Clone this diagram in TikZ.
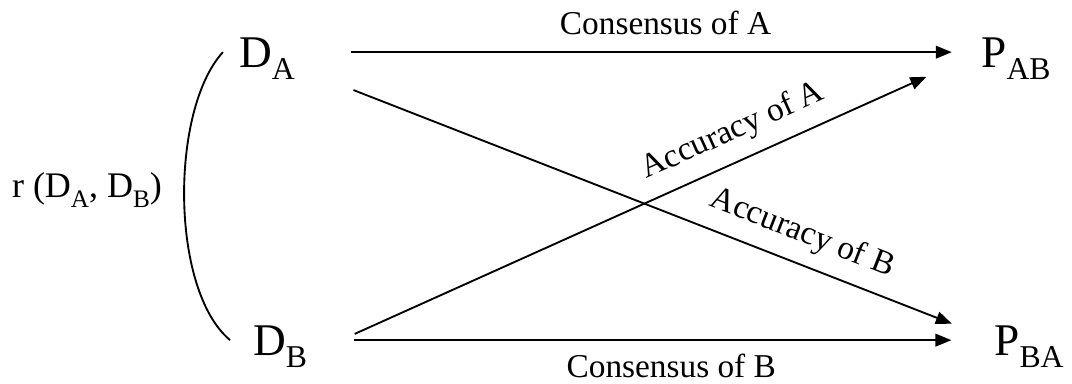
\documentclass[tikz,border=0pt]{standalone}
\usepackage{fontspec}
\setmainfont{Liberation Serif}
\usepackage{graphicx}
\usetikzlibrary{arrows.meta}

\newcommand{\lowsub}[1]{\raisebox{-0.27em}{\scalebox{0.7}{#1}}}

\tikzset{
  var/.style={font=\fontsize{34}{40}\selectfont, inner sep=0pt, text depth=0pt, anchor=base},
  link/.style={line width=1.4pt, -{Triangle[length=12pt,width=9.5pt]}},
  tag/.style={font=\fontsize{25}{30}\selectfont, inner sep=2pt}
}

\begin{document}
\begin{tikzpicture}[x=30pt,y=30pt]
\useasboundingbox (0,0) rectangle (26.8,9.575);

\node[var] (DA) at (6.675,7.9) {D\lowsub{A}};
\node[var] (DB) at (7.0,0.7) {D\lowsub{B}};
\node[var] (PAB) at (25.4,7.9) {P\lowsub{AB}};
\node[var] (PBA) at (25.725,0.7) {P\lowsub{BA}};

\node[tag, font=\fontsize{27}{32}\selectfont] (corr) at (2.175,4.825) {r (D\lowsub{A}, D\lowsub{B})};
\draw[line width=1.4pt] ([xshift=-12pt]DA.west) .. controls (4.25,6.825) and (4.25,2.325) .. ([xshift=-17pt]DB.west);

\draw[link, shorten <=42pt, shorten >=22pt] (DA.east) -- (PAB.west)
  node[tag, pos=0.54, above=10pt] {Consensus of A};
\draw[link, shorten <=35pt, shorten >=32pt] (DB.east) -- (PBA.west)
  node[tag, pos=0.53, below=8pt] {Consensus of B};

\draw[link, shorten <=47pt, shorten >=34pt] (DA.south east) -- (PBA.west)
  node[tag, pos=0.71, sloped, above=8pt] {Accuracy of B};
\draw[link, shorten <=39pt, shorten >=45pt] (DB.south east) -- (PAB.west)
  node[tag, pos=0.65, sloped, above=8pt] {Accuracy of A};
\end{tikzpicture}
\end{document}
